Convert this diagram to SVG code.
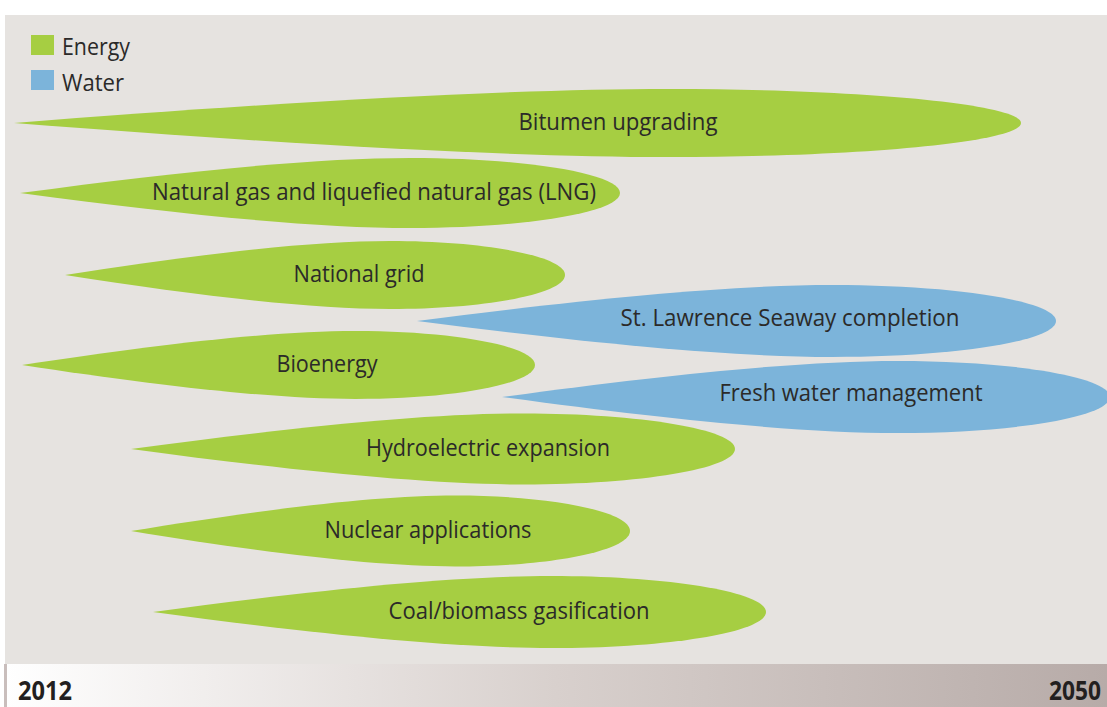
<svg xmlns="http://www.w3.org/2000/svg" xmlns:xlink="http://www.w3.org/1999/xlink" width="1107" height="707" viewBox="0 0 1107 707">
  <style>
    .energy { fill: #a6ce42; }
    .water { fill: #7cb4da; }
    .label { font-family: "Open Sans", "Noto Sans", "Liberation Sans", sans-serif; font-size: 24px; fill: #2b2a29; text-anchor: middle; }
    .legend { font-family: "Open Sans", "Noto Sans", "Liberation Sans", sans-serif; font-size: 24px; fill: #2b2a29; }
    .year { font-family: "Open Sans", "Noto Sans", "Liberation Sans", sans-serif; font-size: 26px; font-weight: bold; fill: #231f20; }
  </style>
  <defs>
    <!-- unit leaf: pointed tip at (0,0), rounded end at (1000,0), half height 35 -->
    <path id="leaf" d="M0,0 C260,-21 487,-35 650,-35 C843,-35 1000,-19.3 1000,0 C1000,19.3 843,35 650,35 C487,35 260,21 0,0 Z"/>
    <linearGradient id="timeline" x1="0" y1="0" x2="1" y2="0">
      <stop offset="0" stop-color="#ffffff"/>
      <stop offset="0.5" stop-color="#d8d0cd"/>
      <stop offset="1" stop-color="#b7aba8"/>
    </linearGradient>
  </defs>

  <!-- page and panel -->
  <rect x="0" y="0" width="1107" height="707" fill="#ffffff"/>
  <rect x="5" y="15" width="1102" height="649" fill="#e6e3e0"/>

  <!-- timeline bar -->
  <rect x="5" y="664" width="1102" height="43" fill="url(#timeline)"/>
  <rect x="4" y="664" width="3" height="43" fill="#c9bebc"/>
  <text class="year" x="18" y="700" textLength="54" lengthAdjust="spacingAndGlyphs">2012</text>
  <text class="year" x="1049" y="700" textLength="52" lengthAdjust="spacingAndGlyphs">2050</text>

  <!-- legend -->
  <g id="legend">
    <rect class="energy" x="31" y="35" width="23" height="20"/>
    <text class="legend" x="62" y="55" textLength="68" lengthAdjust="spacingAndGlyphs">Energy</text>
    <rect class="water" x="31" y="70" width="23" height="20"/>
    <text class="legend" x="62" y="91" textLength="62" lengthAdjust="spacingAndGlyphs">Water</text>
  </g>

  <!-- connectors: none in this chart -->
  <g id="connectors"/>

  <g id="bitumen-upgrading">
    <use xlink:href="#leaf" class="energy" transform="translate(14 123) scale(1.007 0.971)"/>
    <text class="label" x="618" y="130" textLength="199" lengthAdjust="spacingAndGlyphs">Bitumen upgrading</text>
  </g>
  <g id="natural-gas">
    <use xlink:href="#leaf" class="energy" transform="translate(20 193) scale(0.6 1)"/>
    <text class="label" x="374" y="200" textLength="444" lengthAdjust="spacingAndGlyphs">Natural gas and liquefied natural gas (LNG)</text>
  </g>
  <g id="national-grid">
    <use xlink:href="#leaf" class="energy" transform="translate(65 275) scale(0.5 0.971)"/>
    <text class="label" x="359" y="282" textLength="131" lengthAdjust="spacingAndGlyphs">National grid</text>
  </g>
  <g id="st-lawrence">
    <use xlink:href="#leaf" class="water" transform="translate(417 321) scale(0.639 1.029)"/>
    <text class="label" x="790" y="326" textLength="339" lengthAdjust="spacingAndGlyphs">St. Lawrence Seaway completion</text>
  </g>
  <g id="bioenergy">
    <use xlink:href="#leaf" class="energy" transform="translate(22 365) scale(0.513 0.971)"/>
    <text class="label" x="327" y="372" textLength="101" lengthAdjust="spacingAndGlyphs">Bioenergy</text>
  </g>
  <g id="fresh-water">
    <use xlink:href="#leaf" class="water" transform="translate(502 397) scale(0.608 1.029)"/>
    <text class="label" x="851" y="401" textLength="263" lengthAdjust="spacingAndGlyphs">Fresh water management</text>
  </g>
  <g id="hydroelectric">
    <use xlink:href="#leaf" class="energy" transform="translate(131 449) scale(0.604 1.014)"/>
    <text class="label" x="488" y="456" textLength="244" lengthAdjust="spacingAndGlyphs">Hydroelectric expansion</text>
  </g>
  <g id="nuclear">
    <use xlink:href="#leaf" class="energy" transform="translate(131 531) scale(0.499 1.014)"/>
    <text class="label" x="428" y="538" textLength="207" lengthAdjust="spacingAndGlyphs">Nuclear applications</text>
  </g>
  <g id="coal-biomass">
    <use xlink:href="#leaf" class="energy" transform="translate(153 612) scale(0.613 1.029)"/>
    <text class="label" x="519" y="619" textLength="261" lengthAdjust="spacingAndGlyphs">Coal/biomass gasification</text>
  </g>
</svg>
